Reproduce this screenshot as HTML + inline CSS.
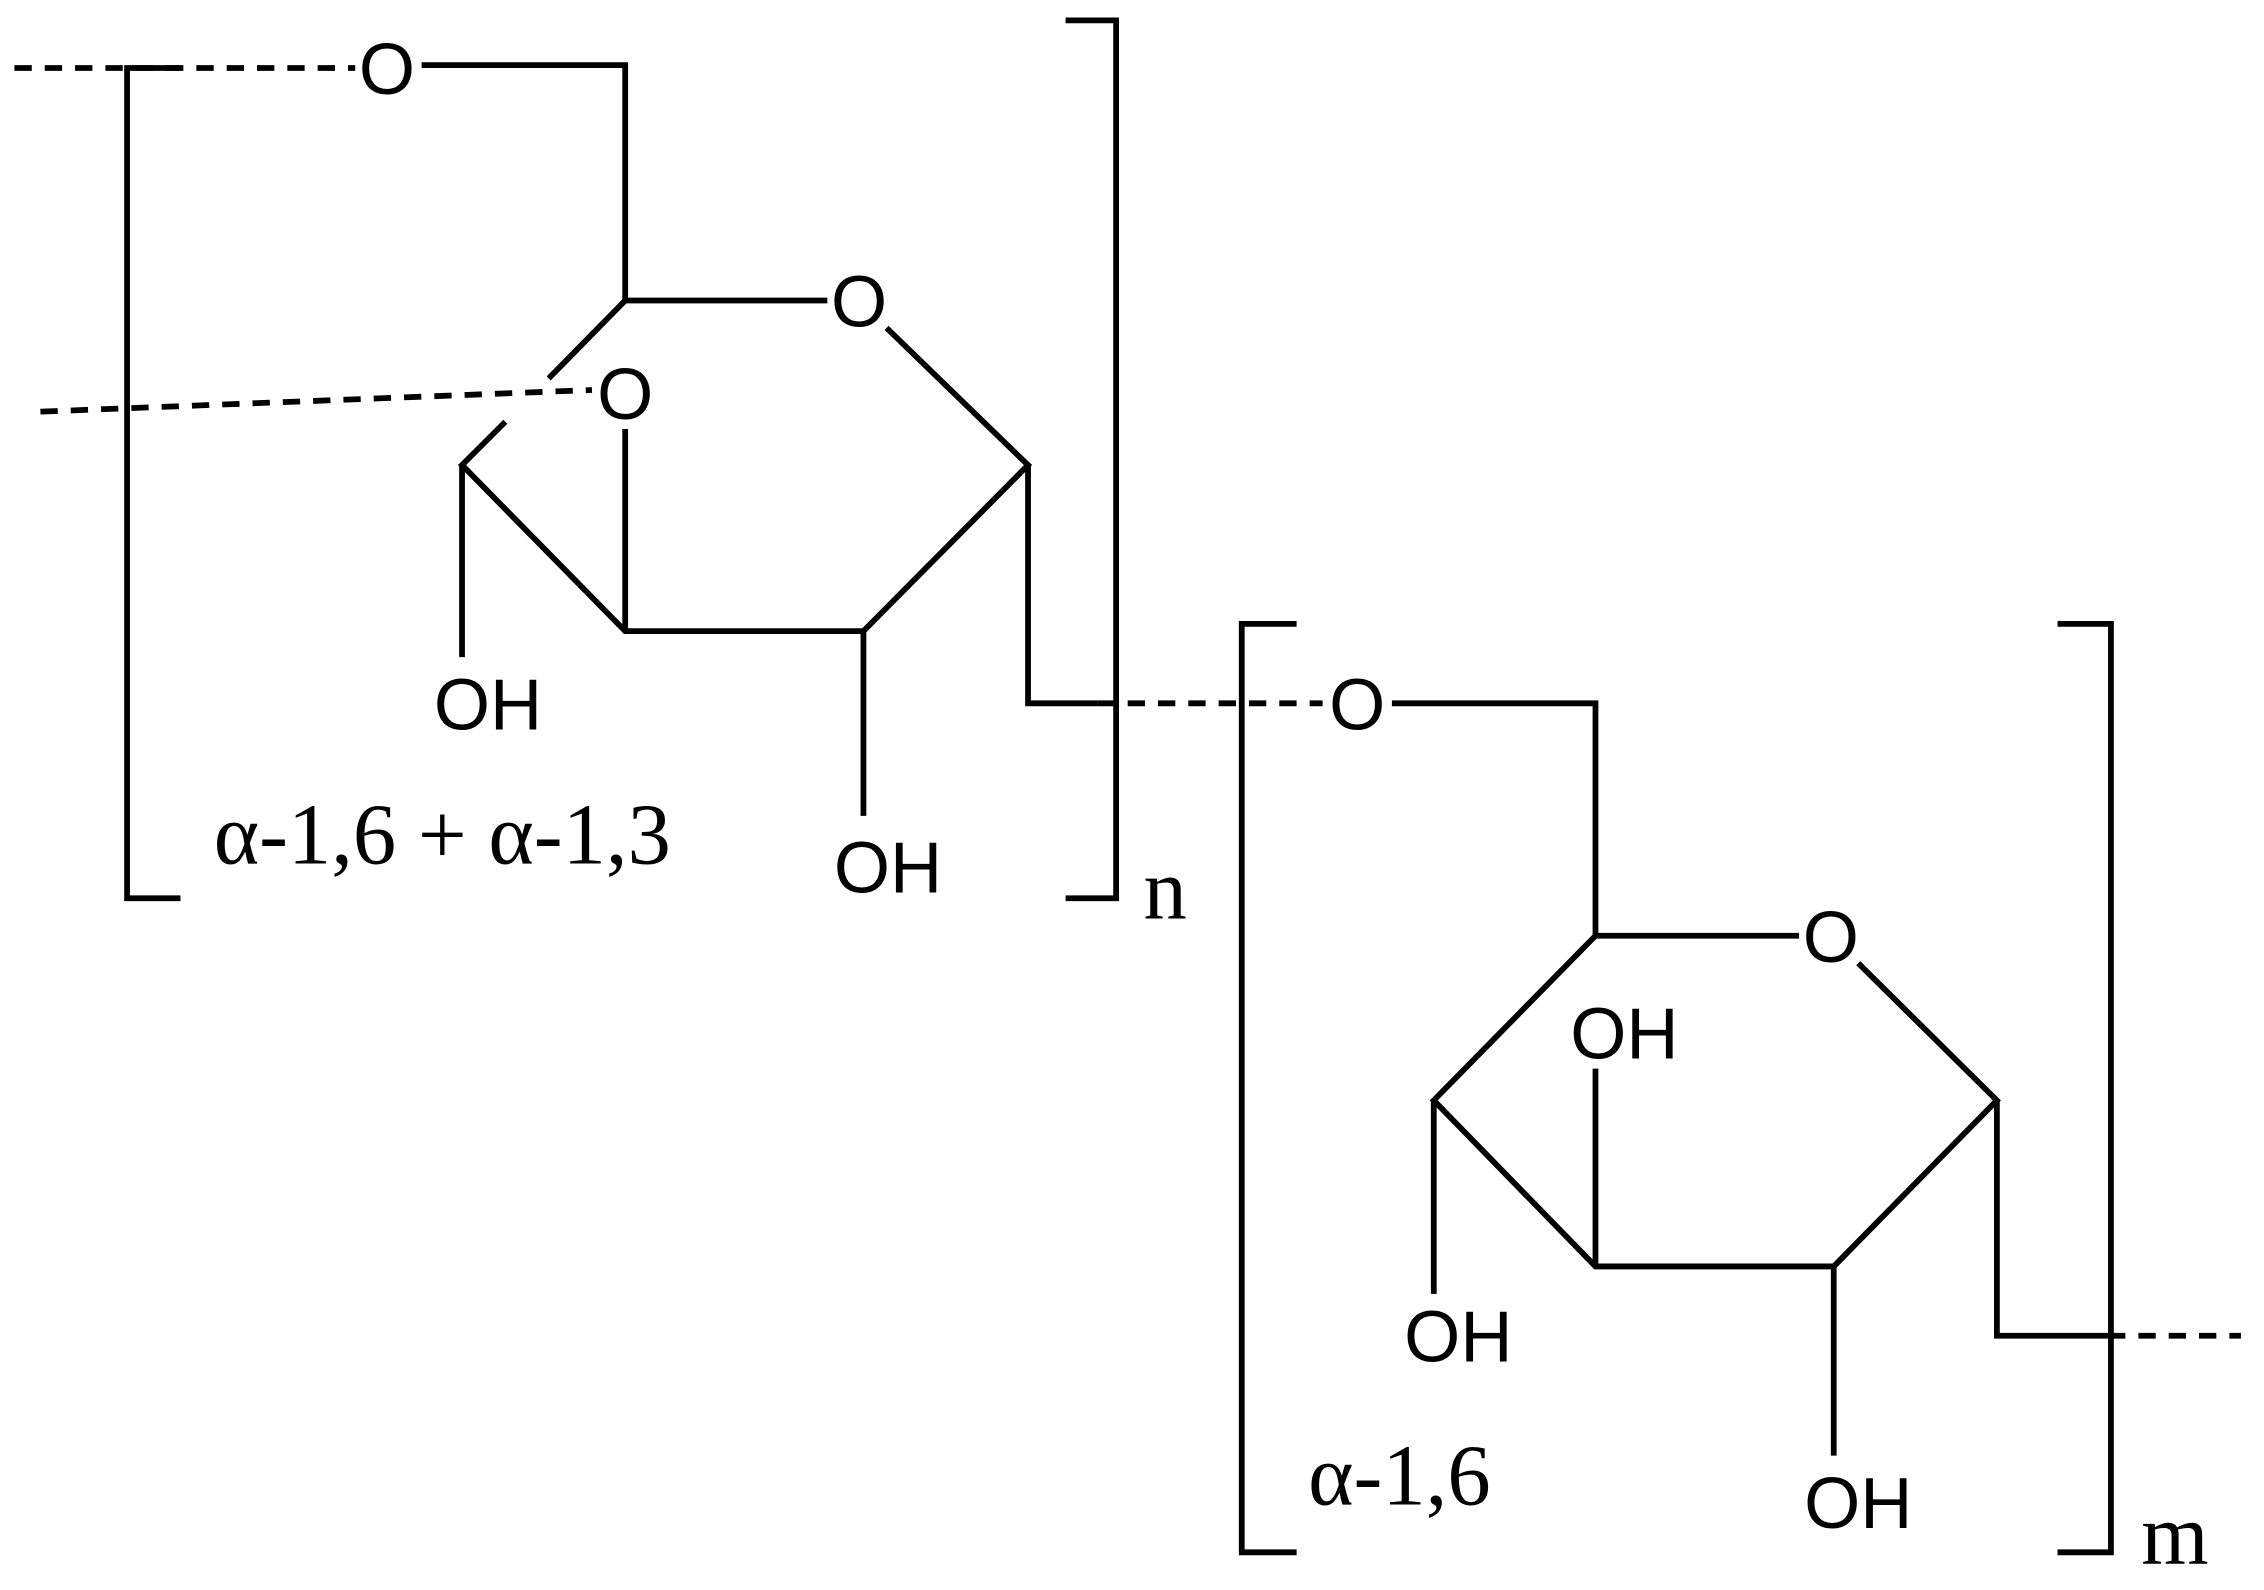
<!DOCTYPE html>
<html><head><meta charset="utf-8"><style>
html,body{margin:0;padding:0;background:#fff;}
svg{display:block;}
.s{font-family:"Liberation Sans",sans-serif;font-size:50px;fill:#000;}
.r{font-family:"Liberation Serif",serif;font-size:60px;fill:#000;}
</style></head><body>
<svg width="2264" height="1590" viewBox="0 0 1568 1101" xmlns="http://www.w3.org/2000/svg">
<g stroke="#000" stroke-width="4" fill="none">
<path d="M10,47 H246" stroke-dasharray="12,9"/>
<path d="M292,45 H433 V208 H573"/>
<path d="M614,227 L712,322 L598,437 H433 L320,322 L350,292"/>
<path d="M380,262 L433,208"/>
<path d="M433,297 V437"/>
<path d="M28,285 L410,270" stroke-dasharray="12,9"/>
<path d="M320,322 V455"/>
<path d="M598,437 V565"/>
<path d="M712,322 V487 H760"/>
<path d="M760,487 H916" stroke-dasharray="12,9"/>
<path d="M125,47 H88 V622 H125"/>
<path d="M738,14 H773 V622 H738"/>
<path d="M964,487 H1105 V648 H1246"/>
<path d="M1287,667 L1383,762 L1270,877 H1105 L993,762 L1105,648"/>
<path d="M1105,877 V740"/>
<path d="M993,762 V896"/>
<path d="M1270,877 V1008"/>
<path d="M1383,762 V925 H1460"/>
<path d="M1460,925 H1552" stroke-dasharray="12,9"/>
<path d="M898,432 H860 V1075 H898"/>
<path d="M1425,432 H1462 V1075 H1425"/>
</g>
<text class="s" x="268" y="65" text-anchor="middle">O</text>
<text class="s" x="595" y="226" text-anchor="middle">O</text>
<text class="s" x="433" y="290" text-anchor="middle">O</text>
<text class="s" x="338" y="505" text-anchor="middle">OH</text>
<text class="s" x="615" y="618" text-anchor="middle">OH</text>
<text class="s" x="940" y="505" text-anchor="middle">O</text>
<text class="s" x="1268" y="666" text-anchor="middle">O</text>
<text class="s" x="1125" y="733" text-anchor="middle">OH</text>
<text class="s" x="1010" y="943" text-anchor="middle">OH</text>
<text class="s" x="1287" y="1058" text-anchor="middle">OH</text>
<text class="r" x="148" y="598">α-1,6 + α-1,3</text>
<text class="r" x="906" y="1042">α-1,6</text>
<text class="r" x="792" y="636">n</text>
<text class="r" x="1483" y="1083">m</text>
</svg>
</body></html>
